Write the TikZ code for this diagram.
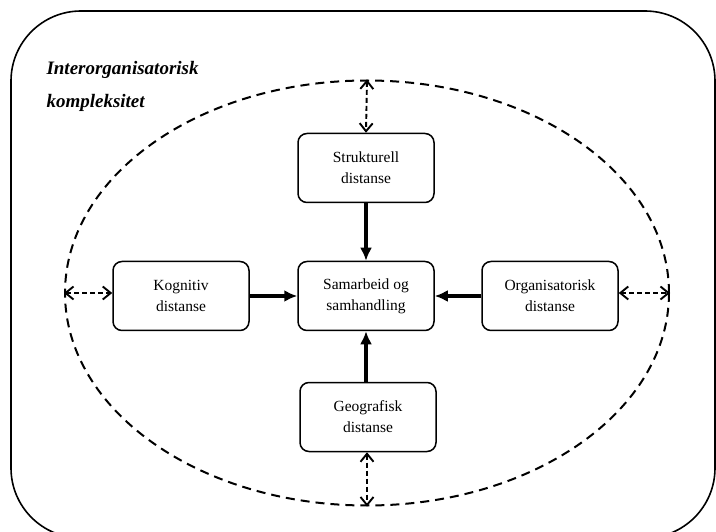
\documentclass[tikz,border=0pt]{standalone}
\usepackage{fontspec}
\setmainfont{Liberation Serif}
\usetikzlibrary{arrows.meta,shapes.geometric}
\begin{document}
\begin{tikzpicture}[x=1pt,y=-1pt,
  box/.style={draw,line width=1.5pt,rounded corners=9pt,minimum width=136pt,minimum height=69pt,align=center,font=\fontsize{15.5pt}{21pt}\selectfont,inner sep=0pt},
  solidarrow/.style={line width=3.2pt,-{Latex[length=13pt,width=12pt]}},
  dasharrow/.style={line width=1.9pt,dash pattern=on 5pt off 3pt,{Straight Barb[length=8pt,width=13pt]}-{Straight Barb[length=8pt,width=13pt]}}]
\useasboundingbox (0,0) rectangle (716,532);
\draw[line width=1.6pt,rounded corners=70pt] (11,11) rectangle (715,538);
\node[draw,ellipse,dash pattern=on 9pt off 6pt,line width=2pt,minimum width=604pt,minimum height=425pt,inner sep=0pt] (ell) at (367,293) {};
\node[anchor=west,font=\fontsize{19pt}{22pt}\selectfont\bfseries\itshape] (t1) at (43,70) {Interorganisatorisk};
\node[anchor=west,font=\fontsize{19pt}{22pt}\selectfont\bfseries\itshape] (t2) at (43,103) {kompleksitet};
\node[box] (str) at (366,168) {Strukturell\\distanse};
\node[box] (sam) at (366,296) {Samarbeid og\\samhandling};
\node[box] (kog) at (181,296) {Kognitiv\\distanse};
\node[box] (org) at (550,296) {Organisatorisk\\distanse};
\node[box] (geo) at (368,417) {Geografisk\\distanse};
\draw[solidarrow] (str) -- (sam);
\draw[solidarrow] (kog) -- (sam);
\draw[solidarrow] (org) -- (sam);
\draw[solidarrow] (geo.north -| sam.south) -- (sam.south);
\draw[dasharrow] (ell.north) -- (str.north);
\draw[dasharrow] (geo.south -| ell.south) -- (ell.south);
\draw[dasharrow] (ell.west) -- (ell.west -| kog.west);
\draw[dasharrow] (ell.east -| org.east) -- (ell.east);
\end{tikzpicture}
\end{document}
